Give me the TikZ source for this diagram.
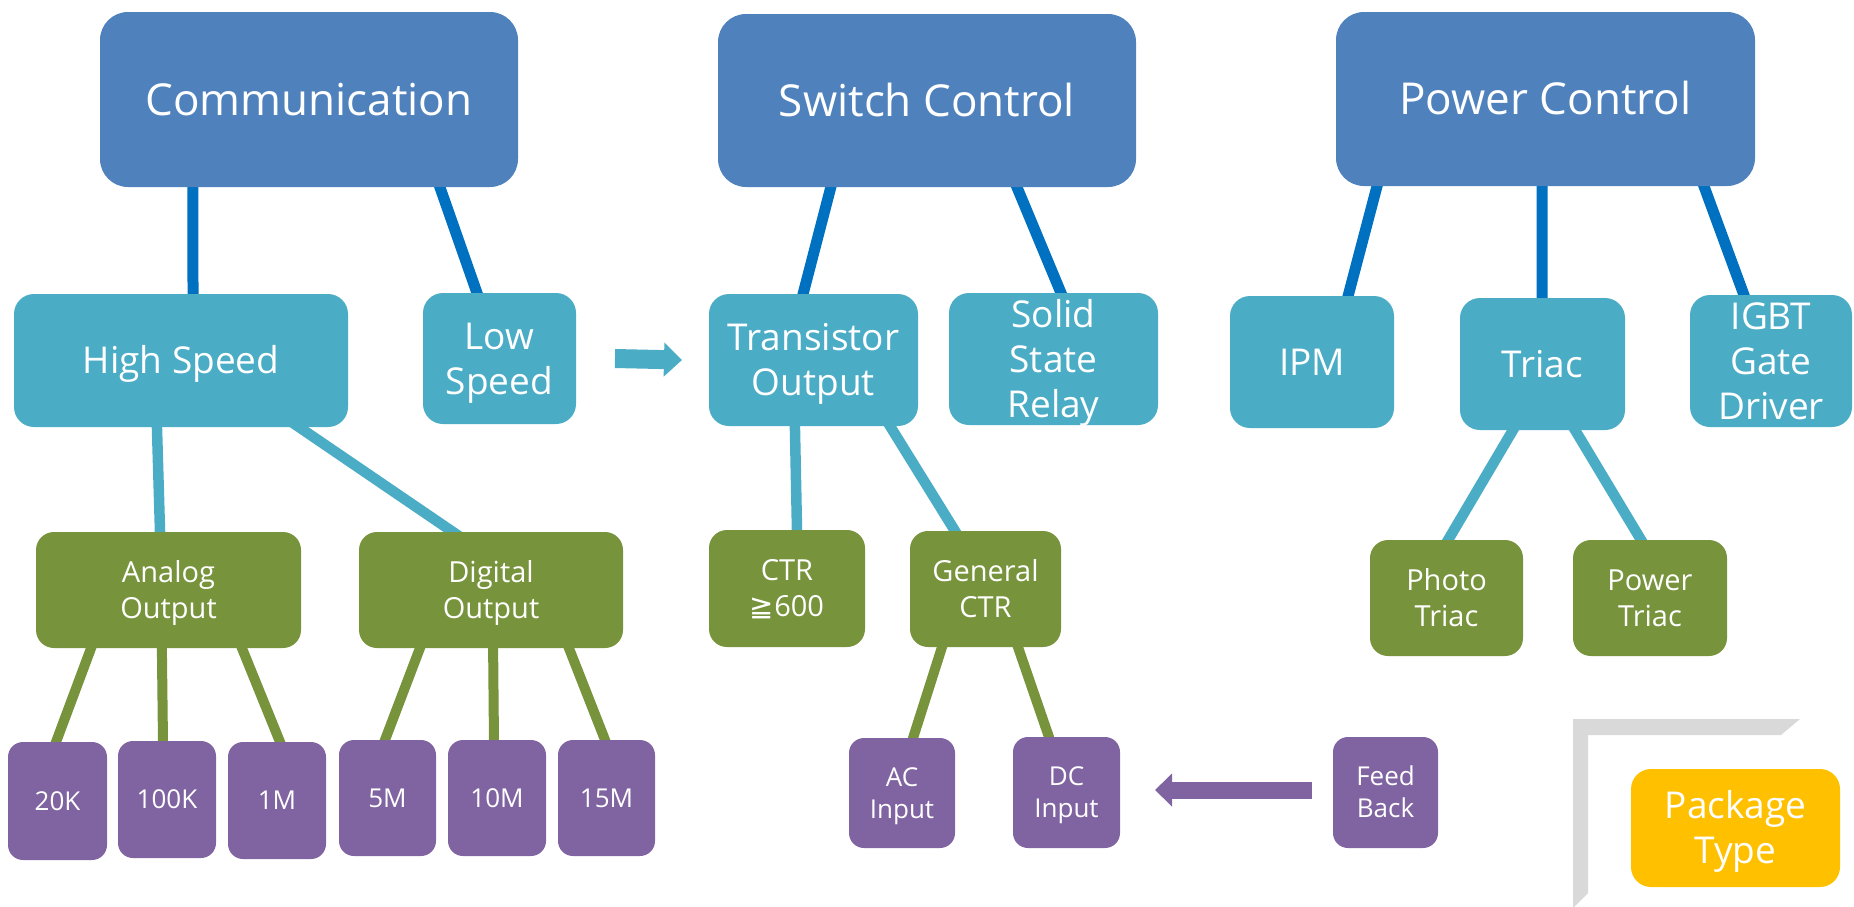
\documentclass[tikz,border=0pt]{standalone}
\usepackage{fontspec}
\setmainfont{Open Sans}
\newfontfamily\symfont{DejaVu Sans}
\usetikzlibrary{calc,backgrounds,arrows.meta}
\definecolor{cTop}{HTML}{4F81BD}
\definecolor{cTopLine}{HTML}{0070C0}
\definecolor{cTeal}{HTML}{4BACC6}
\definecolor{cGreen}{HTML}{77933C}
\definecolor{cPurple}{HTML}{8064A2}
\definecolor{cOrange}{HTML}{FFC000}
\definecolor{cGray}{HTML}{D9D9D9}
% text block whose extent is exactly the cap height of the first line down to the last baseline
\newcommand\cb[1]{\raisebox{0pt}[\dimexpr\height-0.7\baselineskip+\fontcharht\font`H\relax][0pt]{\begin{tabular}[b]{@{}c@{}}#1\end{tabular}}}
\newcommand\myconn[5]{\draw[#1] ($(#2.south west)!#3!(#2.south east)$) -- ($(#4.north west)!#5!(#4.north east)$);}
\tikzset{
  basebox/.style={rectangle, inner sep=0pt, outer sep=0pt, align=center, text=white},
  topbox/.style={basebox, fill=cTop, rounded corners=28pt, font=\fontsize{44}{52}\selectfont},
  midbox/.style={basebox, fill=cTeal, rounded corners=20pt, font=\fontsize{37}{45}\selectfont},
  lowbox/.style={basebox, fill=cGreen, rounded corners=18pt, font=\fontsize{29}{36}\selectfont},
  leafbox/.style={basebox, fill=cPurple, rounded corners=15pt, font=\fontsize{26}{32}\selectfont},
  pkgbox/.style={basebox, fill=cOrange, rounded corners=20pt, font=\fontsize{37}{45}\selectfont},
  bluelink/.style={draw=cTopLine, line width=11pt, shorten <=-8pt, shorten >=-8pt},
  teallink/.style={draw=cTeal, line width=10.5pt, shorten <=-8pt, shorten >=-8pt},
  greenlink/.style={draw=cGreen, line width=10pt, shorten <=-8pt, shorten >=-8pt},
}
\begin{document}
\begin{tikzpicture}[x=1pt,y=-1pt]
\useasboundingbox (0,0) rectangle (1854,906);
% top row
\node[topbox, minimum width=418pt, minimum height=175pt] (comm) at (309,99.5) {\cb{Communication}};
\node[topbox, minimum width=418pt, minimum height=173pt] (sw) at (927,100.5) {\cb{Switch Control}};
\node[topbox, minimum width=419pt, minimum height=174pt] (pw) at (1545.5,99) {\cb{Power Control}};
% second row
\node[midbox, minimum width=334pt, minimum height=133pt] (hs) at (181,360.5) {\cb{High Speed}};
\node[midbox, minimum width=153pt, minimum height=131pt] (ls) at (499.5,358.5) {\cb{Low\\Speed}};
\node[midbox, minimum width=209pt, minimum height=132pt] (to) at (813.5,360) {\cb{Transistor\\Output}};
\node[midbox, minimum width=209pt, minimum height=132pt] (ssr) at (1053.5,359) {\cb{Solid\\State\\Relay}};
\node[midbox, minimum width=164pt, minimum height=132pt] (ipm) at (1312,362) {\cb{IPM}};
\node[midbox, minimum width=165pt, minimum height=132pt] (triac) at (1542.5,364) {\cb{Triac}};
\node[midbox, minimum width=162pt, minimum height=132pt] (igbt) at (1771,361) {\cb{IGBT\\Gate\\Driver}};
% third row
\node[lowbox, minimum width=265pt, minimum height=116pt] (ao) at (168.5,590) {\cb{Analog\\Output}};
\node[lowbox, minimum width=264pt, minimum height=116pt] (do) at (491,590) {\cb{Digital\\Output}};
\node[lowbox, minimum width=156pt, minimum height=117pt] (ctr) at (787,588.5) {\cb{CTR\\{\symfont ≧}600}};
\node[lowbox, minimum width=151pt, minimum height=116pt] (gc) at (985.5,589) {\cb{General\\CTR}};
\node[lowbox, minimum width=153pt, minimum height=116pt] (pt) at (1446.5,598) {\cb{Photo\\Triac}};
\node[lowbox, minimum width=154pt, minimum height=116pt] (pwt) at (1650,598) {\cb{Power\\Triac}};
% fourth row
\node[leafbox, minimum width=99pt, minimum height=118pt] (k20) at (57.5,801) {\cb{20K}};
\node[leafbox, minimum width=98pt, minimum height=117pt] (k100) at (167,799.5) {\cb{100K}};
\node[leafbox, minimum width=98pt, minimum height=117pt] (m1) at (277,800.5) {\cb{1M}};
\node[leafbox, minimum width=97pt, minimum height=116pt] (m5) at (387.5,798) {\cb{5M}};
\node[leafbox, minimum width=98pt, minimum height=116pt] (m10) at (497,798) {\cb{10M}};
\node[leafbox, minimum width=97pt, minimum height=116pt] (m15) at (606.5,798) {\cb{15M}};
\node[leafbox, minimum width=106pt, minimum height=110pt] (ac) at (902,793) {\cb{AC\\Input}};
\node[leafbox, minimum width=107pt, minimum height=111pt] (dc) at (1066.5,792.5) {\cb{DC\\Input}};
\node[leafbox, minimum width=105pt, minimum height=111pt] (fb) at (1385.5,792.5) {\cb{Feed\\Back}};
% package type corner
\fill[cGray] (1573,719) -- (1800,719) -- (1781,735) -- (1588,735) -- (1588,893) -- (1573,908) -- cycle;
\node[pkgbox, minimum width=209pt, minimum height=118pt] (pkg) at (1735.5,828) {\cb{Package\\Type}};
% connectors
\begin{pgfonlayer}{background}
\myconn{bluelink}{comm}{0.222}{hs}{0.536}
\myconn{bluelink}{comm}{0.813}{ls}{0.353}
\myconn{bluelink}{sw}{0.270}{to}{0.450}
\myconn{bluelink}{sw}{0.715}{ssr}{0.536}
\myconn{bluelink}{pw}{0.098}{ipm}{0.720}
\myconn{bluelink}{pw}{0.492}{triac}{0.497}
\myconn{bluelink}{pw}{0.878}{igbt}{0.333}
\myconn{teallink}{hs}{0.428}{ao}{0.468}
\myconn{teallink}{hs}{0.853}{do}{0.356}
\myconn{teallink}{to}{0.411}{ctr}{0.564}
\myconn{teallink}{to}{0.866}{gc}{0.298}
\myconn{teallink}{triac}{0.321}{pt}{0.510}
\myconn{teallink}{triac}{0.697}{pwt}{0.442}
\myconn{greenlink}{ao}{0.208}{k20}{0.485}
\myconn{greenlink}{ao}{0.475}{k100}{0.459}
\myconn{greenlink}{ao}{0.777}{m1}{0.531}
\myconn{greenlink}{do}{0.231}{m5}{0.474}
\myconn{greenlink}{do}{0.508}{m10}{0.469}
\myconn{greenlink}{do}{0.795}{m15}{0.485}
\myconn{greenlink}{gc}{0.212}{ac}{0.604}
\myconn{greenlink}{gc}{0.715}{dc}{0.336}
\end{pgfonlayer}
% block arrows
\draw[cTeal, line width=19pt, -{Triangle[length=18pt,width=33pt]}] ($(ls.east)+(39,0)$) -- ($(to.west)+(-27,0)$);
\draw[cPurple, line width=17pt, -{Triangle[length=17pt,width=32pt]}] ($(fb.west)+(-21,-2.5)$) -- ($(dc.east)+(35,-2.5)$);
\end{tikzpicture}
\end{document}
